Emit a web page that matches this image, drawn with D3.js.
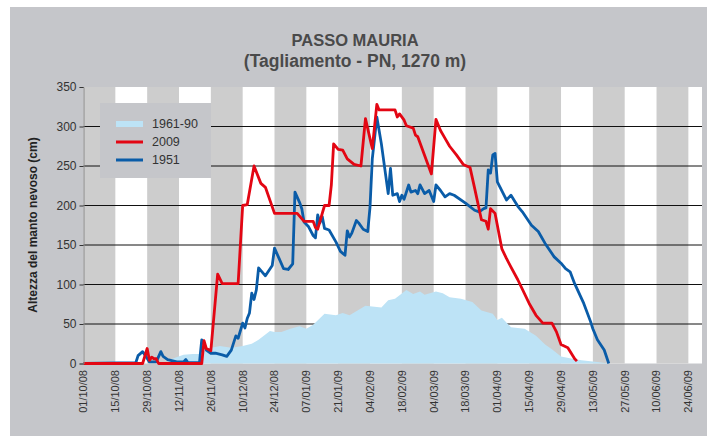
<!DOCTYPE html>
<html>
<head>
<meta charset="utf-8">
<script src="https://cdnjs.cloudflare.com/ajax/libs/d3/7.8.5/d3.min.js"></script>
<style>
  body { margin: 0; background: #fff; }
  svg { display: block; }
</style>
</head>
<body>
<div id="chart"></div>
<script>
// tick labels on the x axis (every 14 days)
var tickLabels = ['01/10/08', '15/10/08', '29/10/08', '12/11/08', '26/11/08', '10/12/08', '24/12/08',
  '07/01/09', '21/01/09', '04/02/09', '18/02/09', '04/03/09', '18/03/09', '01/04/09', '15/04/09',
  '29/04/09', '13/05/09', '27/05/09', '10/06/09', '24/06/09'];
var yTicks = [0, 50, 100, 150, 200, 250, 300, 350];
var seriesNames = ['1961-90', '2009', '1951'];

// 2009 season
var dates2009 = ['01/10/08', '27/10/08', '29/10/08', '30/10/08', '31/10/08', '01/11/08', '02/11/08', '03/11/08',
  '22/11/08', '23/11/08', '24/11/08', '26/11/08', '29/11/08', '01/12/08', '08/12/08', '10/12/08', '12/12/08',
  '15/12/08', '18/12/08', '20/12/08', '24/12/08', '03/01/09', '06/01/09', '10/01/09', '11/01/09', '12/01/09',
  '15/01/09', '17/01/09', '18/01/09', '19/01/09', '21/01/09', '23/01/09', '25/01/09', '28/01/09', '31/01/09',
  '02/02/09', '05/02/09', '07/02/09', '08/02/09', '15/02/09', '16/02/09', '17/02/09', '19/02/09', '20/02/09',
  '23/02/09', '24/02/09', '25/02/09', '03/03/09', '05/03/09', '07/03/09', '09/03/09', '11/03/09', '14/03/09',
  '17/03/09', '20/03/09', '22/03/09', '25/03/09', '27/03/09', '28/03/09', '29/03/09', '31/03/09', '03/04/09',
  '05/04/09', '07/04/09', '10/04/09', '15/04/09', '18/04/09', '21/04/09', '25/04/09', '27/04/09', '29/04/09',
  '02/05/09', '05/05/09', '06/05/09'];
var snow2009 = [0, 0, 19, 4, 8, 6, 6, 0,
  0, 29, 19, 16, 113, 101, 101, 200, 201,
  250, 228, 223, 190, 190, 180, 180, 172, 170,
  200, 200, 226, 278, 271, 270, 259, 252, 250,
  310, 272, 328, 321, 321, 312, 316, 308, 301,
  298, 289, 287, 240, 309, 295, 285, 275, 264,
  252, 248, 222, 182, 180, 170, 196, 190, 145,
  133, 122, 106, 76, 61, 51, 51, 40, 24,
  20, 6, 3];

// 1951 season
var dates1951 = ['01/10/08', '24/10/08', '25/10/08', '27/10/08', '28/10/08', '30/10/08', '02/11/08', '04/11/08',
  '05/11/08', '07/11/08', '11/11/08', '14/11/08', '15/11/08', '16/11/08', '21/11/08', '22/11/08', '23/11/08',
  '24/11/08', '26/11/08', '28/11/08', '01/12/08', '03/12/08', '05/12/08', '07/12/08', '08/12/08', '10/12/08',
  '11/12/08', '12/12/08', '13/12/08', '14/12/08', '15/12/08', '16/12/08', '17/12/08', '20/12/08', '23/12/08',
  '24/12/08', '26/12/08', '28/12/08', '30/12/08', '01/01/09', '02/01/09', '04/01/09', '05/01/09', '06/01/09',
  '08/01/09', '10/01/09', '11/01/09', '12/01/09', '13/01/09', '14/01/09', '15/01/09', '17/01/09', '20/01/09',
  '22/01/09', '24/01/09', '25/01/09', '26/01/09', '27/01/09', '29/01/09', '30/01/09', '01/02/09', '03/02/09',
  '04/02/09', '05/02/09', '06/02/09', '07/02/09', '09/02/09', '12/02/09', '13/02/09', '14/02/09', '16/02/09',
  '17/02/09', '18/02/09', '19/02/09', '21/02/09', '22/02/09', '24/02/09', '25/02/09', '26/02/09', '28/02/09',
  '02/03/09', '04/03/09', '05/03/09', '07/03/09', '09/03/09', '11/03/09', '13/03/09', '18/03/09', '22/03/09',
  '24/03/09', '26/03/09', '27/03/09', '28/03/09', '29/03/09', '30/03/09', '31/03/09', '01/04/09', '05/04/09',
  '07/04/09', '10/04/09', '12/04/09', '16/04/09', '19/04/09', '22/04/09', '26/04/09', '29/04/09', '01/05/09',
  '03/05/09', '05/05/09', '09/05/09', '12/05/09', '13/05/09', '15/05/09', '18/05/09', '20/05/09'];
var snow1951 = [0, 1, 10, 15, 11, 2, 2, 15,
  9, 5, 2, 2, 5, 1, 1, 30, 25,
  17, 13, 13, 11, 9, 17, 35, 32, 51,
  45, 57, 64, 89, 81, 93, 121, 111, 124,
  146, 133, 120, 119, 126, 217, 204, 196, 179,
  173, 162, 159, 188, 178, 186, 171, 169, 154,
  142, 137, 168, 160, 165, 181, 178, 170, 167,
  198, 259, 285, 312, 278, 215, 247, 213, 215,
  205, 213, 208, 226, 217, 219, 215, 226, 215,
  219, 205, 226, 219, 211, 215, 213, 203, 194,
  192, 196, 197, 245, 241, 264, 266, 230, 207,
  213, 199, 192, 175, 167, 152, 135, 127, 120,
  116, 101, 76, 53, 44, 30, 17, 0];

// 1961-90 mean
var datesNorm = ['06/11/08', '09/11/08', '14/11/08', '18/11/08', '22/11/08', '24/11/08', '28/11/08', '30/11/08',
  '05/12/08', '10/12/08', '14/12/08', '17/12/08', '22/12/08', '24/12/08', '27/12/08', '31/12/08', '04/01/09',
  '07/01/09', '10/01/09', '15/01/09', '20/01/09', '23/01/09', '26/01/09', '02/02/09', '09/02/09', '12/02/09',
  '15/02/09', '20/02/09', '23/02/09', '26/02/09', '28/02/09', '05/03/09', '08/03/09', '11/03/09', '16/03/09',
  '21/03/09', '25/03/09', '30/03/09', '01/04/09', '03/04/09', '07/04/09', '13/04/09', '18/04/09', '22/04/09',
  '25/04/09', '29/04/09', '04/05/09', '08/05/09', '15/05/09', '20/05/09'];
var snowNorm = [0, 6, 11, 12, 12, 19, 21, 22,
  20, 22, 25, 30, 41, 40, 40, 44, 47,
  44, 49, 63, 61, 64, 61, 73, 71, 80,
  82, 93, 88, 91, 87, 91, 89, 84, 82,
  78, 67, 63, 55, 58, 46, 44, 35, 24,
  18, 9, 6, 4, 2, 0];

var parse = d3.timeParse('%d/%m/%y');
var width = 707, height = 436;
var plot = { left: 83.5, right: 702, top: 87, bottom: 363.5 };
var colBg = '#c5c6ca', colStripe = '#cdcdcd', colNorm = '#bde3f6', colRed = '#e30613', colBlue = '#0a5ca8';
var font = 'Liberation Sans, Arial, sans-serif';

var svg = d3.select('#chart').append('svg')
  .attr('width', width)
  .attr('height', height);

svg.append('rect').attr('x', 10).attr('y', 7).attr('width', width - 10).attr('height', height - 7).attr('fill', colBg);

var x = d3.scaleTime()
  .domain([parse('01/10/08'), parse('30/06/09')])
  .range([plot.left, plot.right]);
var y = d3.scaleLinear().domain([0, 350]).range([plot.bottom, plot.top]);

// white plot background with grey 14-day stripes
svg.append('rect').attr('x', plot.left).attr('y', plot.top)
  .attr('width', plot.right - plot.left).attr('height', plot.bottom - plot.top).attr('fill', '#fff');

var tickDates = tickLabels.map(parse);
svg.append('g').selectAll('rect')
  .data(tickDates.filter(function (d, i) { return i % 2 === 0; }))
  .enter().append('rect')
  .attr('x', function (d) { return x(d); })
  .attr('y', plot.top)
  .attr('width', function (d) { return Math.min(x(d3.timeDay.offset(d, 14)), plot.right) - x(d); })
  .attr('height', plot.bottom - plot.top)
  .attr('fill', colStripe);

// horizontal grid
svg.append('g').selectAll('line')
  .data(yTicks.filter(function (v) { return v > 0 && v < 350; }))
  .enter().append('line')
  .attr('x1', plot.left).attr('x2', plot.right)
  .attr('y1', function (d) { return y(d); })
  .attr('y2', function (d) { return y(d); })
  .attr('stroke', '#111').attr('stroke-width', 1);

function pairs(dates, vals) {
  return dates.map(function (d, i) { return { date: parse(d), v: vals[i] }; });
}

var area = d3.area()
  .x(function (d) { return x(d.date); })
  .y0(y(0))
  .y1(function (d) { return y(d.v); });
svg.append('path').datum(pairs(datesNorm, snowNorm))
  .attr('d', area).attr('fill', colNorm);

var line = d3.line()
  .x(function (d) { return x(d.date); })
  .y(function (d) { return y(d.v); });

svg.append('path').datum(pairs(dates1951, snow1951))
  .attr('d', line).attr('fill', 'none').attr('stroke', colBlue)
  .attr('stroke-width', 2.8).attr('stroke-linejoin', 'round');
svg.append('path').datum(pairs(dates2009, snow2009))
  .attr('d', line).attr('fill', 'none').attr('stroke', colRed)
  .attr('stroke-width', 2.8).attr('stroke-linejoin', 'round');

// y axis
var yAxis = svg.append('g')
  .attr('transform', 'translate(' + plot.left + ',0)')
  .call(d3.axisLeft(y).tickValues(yTicks).tickSize(4).tickPadding(3));
yAxis.select('.domain').attr('stroke', '#8a8a8a');
yAxis.selectAll('.tick line').attr('stroke', '#333');
yAxis.selectAll('text').attr('fill', '#333').style('font-size', '12px').style('font-family', font);

// x tick labels, rotated
svg.append('g').selectAll('text')
  .data(tickDates)
  .enter().append('text')
  .attr('transform', function (d) { return 'translate(' + x(d) + ',370) rotate(-90)'; })
  .attr('dy', '0.35em')
  .attr('text-anchor', 'end')
  .attr('fill', '#333')
  .style('font-size', '11px')
  .style('font-family', font)
  .text(function (d, i) { return tickLabels[i]; });

// titles
var title = svg.append('g').attr('fill', '#4a4a4a')
  .style('font-family', font)
  .style('font-weight', 'bold').attr('text-anchor', 'middle');
title.append('text').attr('x', 355).attr('y', 46).style('font-size', '16.5px').text('PASSO MAURIA');
title.append('text').attr('x', 355).attr('y', 67).style('font-size', '17.5px').text('(Tagliamento - PN, 1270 m)');

svg.append('text')
  .attr('transform', 'translate(37,225) rotate(-90)')
  .attr('text-anchor', 'middle')
  .attr('fill', '#222')
  .style('font-family', font)
  .style('font-weight', 'bold').style('font-size', '12px')
  .text('Altezza del manto nevoso (cm)');

// legend
var legend = svg.append('g').attr('transform', 'translate(100,103)');
legend.append('rect').attr('width', 111).attr('height', 75).attr('fill', colBg);
var legendColors = [colNorm, colRed, colBlue];
var rows = legend.selectAll('g.row').data(seriesNames).enter().append('g')
  .attr('transform', function (d, i) { return 'translate(16,' + (21 + i * 18) + ')'; });
rows.append('rect')
  .attr('x', 0).attr('width', 27)
  .attr('y', function (d, i) { return i === 0 ? -3 : -1.5; })
  .attr('height', function (d, i) { return i === 0 ? 6 : 3; })
  .attr('fill', function (d, i) { return legendColors[i]; });
rows.append('text').attr('x', 36).attr('dy', '0.35em')
  .attr('fill', '#333')
  .style('font-family', font).style('font-size', '12.5px')
  .text(function (d) { return d; });
</script>
</body>
</html>
